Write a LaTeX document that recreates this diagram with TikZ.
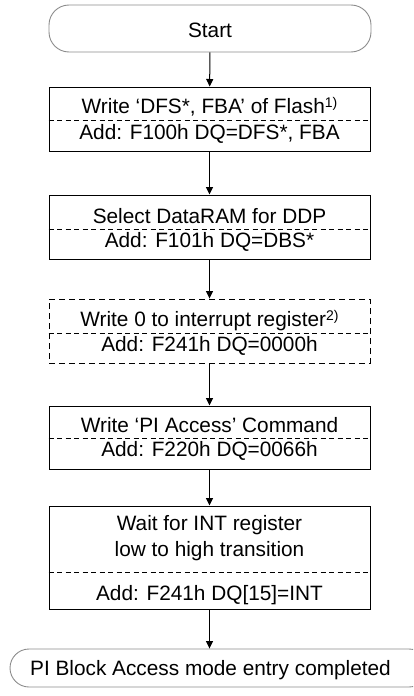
\documentclass[tikz,border=0pt]{standalone}
\usepackage{fontspec}
\setmainfont{Liberation Sans}
\usetikzlibrary{arrows.meta}
\newcommand\fnmark[1]{\raisebox{6.5pt}{\fontsize{14}{14}\selectfont #1}}
\begin{document}
\begin{tikzpicture}[x=1pt,y=-1pt,
  box/.style={draw, line width=1pt, minimum width=321pt, inner sep=0pt},
  dbox/.style={box, line width=0.9pt, dash pattern=on 6pt off 4pt},
  term/.style={draw=black!45, line width=0.9pt, rounded corners=20pt, inner sep=0pt},
  txt/.style={anchor=base, inner sep=0pt, font=\fontsize{20.8}{24}\selectfont},
  div/.style={line width=0.8pt, dash pattern=on 5pt off 3.5pt},
  arr/.style={line width=1pt, -{Triangle[length=7.5pt,width=7pt]}}]
\useasboundingbox (0,0) rectangle (413,696);
\clip (0,0) rectangle (413,696);

% start terminal
\node[term, minimum width=322pt, minimum height=47pt] (s) at (210,28.5) {};
\node[txt] (st) at (210,37) {Start};

% box 1
\node[box, minimum height=64pt] (b1) at (209.5,119) {};
\node[txt] (b1a) at (209.5,113.5) {Write ‘DFS*, FBA’ of Flash\fnmark{1)}};
\node[txt] (b1b) at (209.5,139.5) {Add: F100h DQ=DFS*, FBA};
\draw[div] (b1.west |- 0,120) -- (b1.east |- 0,120);

% box 2
\node[box, minimum height=64pt] (b2) at (209.5,227) {};
\node[txt] (b2a) at (209.5,223.5) {Select DataRAM for DDP};
\node[txt] (b2b) at (209.5,247.7) {Add: F101h DQ=DBS*};
\draw[div] (b2.west |- 0,229) -- (b2.east |- 0,229);

% box 3 (dashed)
\node[dbox, minimum height=64pt] (b3) at (209.5,331) {};
\node[txt] (b3a) at (209.5,326.7) {Write 0 to interrupt register\fnmark{2)}};
\node[txt] (b3b) at (209.5,351.7) {Add: F241h DQ=0000h};
\draw[div] (b3.west |- 0,333) -- (b3.east |- 0,333);

% box 4
\node[box, minimum height=63pt] (b4) at (209.5,437.5) {};
\node[txt] (b4a) at (209.5,432.7) {Write ‘PI Access’ Command};
\node[txt] (b4b) at (209.5,456.7) {Add: F220h DQ=0066h};
\draw[div] (b4.west |- 0,438) -- (b4.east |- 0,438);

% box 5
\node[box, minimum height=103pt] (b5) at (209.5,557.5) {};
\node[txt] (b5a) at (209.5,530) {Wait for INT register};
\node[txt] (b5b) at (209.5,556.7) {low to high transition};
\node[txt] (b5c) at (209.5,600) {Add: F241h DQ[15]=INT};
\draw[div] (b5.west |- 0,572) -- (b5.east |- 0,572);

% end terminal
\node[term, minimum width=418pt, minimum height=38pt, rounded corners=19pt] (e) at (219,668) {};
\node[txt] (et) at (210.5,675) {PI Block Access mode entry completed};

% connectors
\draw[arr] (s) -- (b1);
\draw[arr] (b1) -- (b2);
\draw[arr] (b2) -- (b3);
\draw[arr] (b3) -- (b4);
\draw[arr] (b4) -- (b5);
\draw[arr] (b5.south) -- (b5.south |- e.north);
\end{tikzpicture}
\end{document}
